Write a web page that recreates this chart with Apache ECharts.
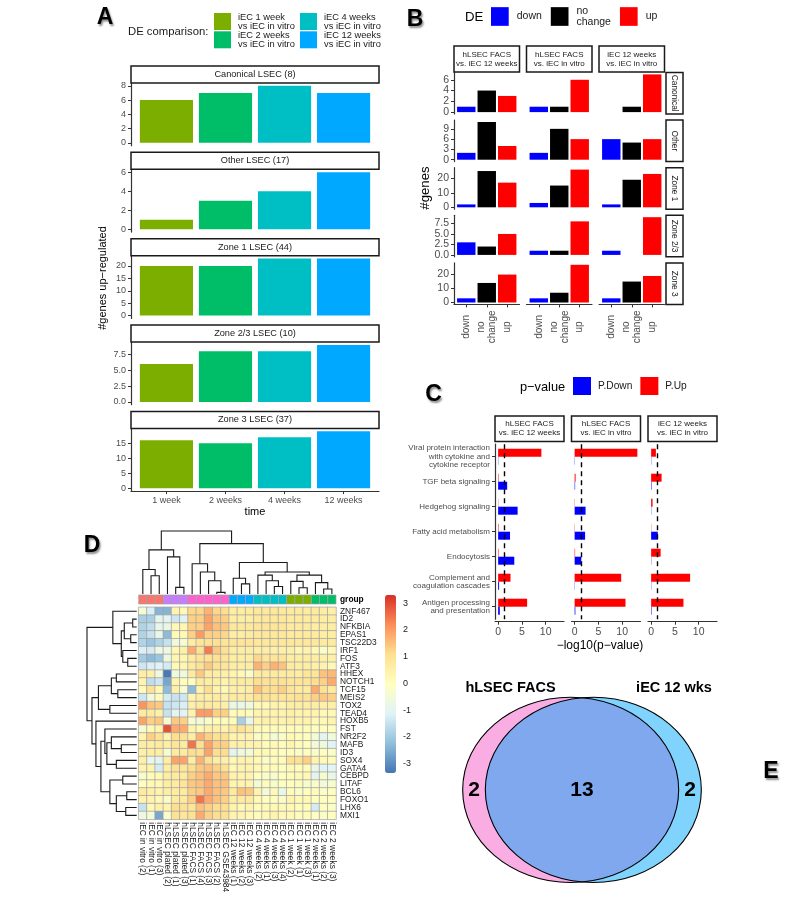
<!DOCTYPE html>
<html><head><meta charset="utf-8">
<script src="https://cdn.jsdelivr.net/npm/echarts@6/dist/echarts.min.js"></script>
<style>html,body{margin:0;padding:0;background:#fff}#c{width:787px;height:901px}</style>
</head><body><div id="c"></div>
<script>
// ================= DATA =================
// Panel A
const aTimes = ['1 week','2 weeks','4 weeks','12 weeks'];
const aComparisons = ['iEC 1 week vs iEC in vitro','iEC 2 weeks vs iEC in vitro','iEC 4 weeks vs iEC in vitro','iEC 12 weeks vs iEC in vitro'];
const aFacets = ['Canonical LSEC (8)','Other LSEC (17)','Zone 1 LSEC (44)','Zone 2/3 LSEC (10)','Zone 3 LSEC (37)'];
const aCanonical = [6,7,8,7];
const aOther = [1,3,4,6];
const aZone1 = [20,20,23,23];
const aZone23 = [6,8,8,9];
const aZone3 = [16,15,17,19];
const aTicks = [[0,2,4,6,8],[0,2,4,6],[0,5,10,15,20],[0,2.5,5,7.5],[0,5,10,15]];

// Panel B  (values: down, no change, up) per comparison
const bDE = ['down','no change','up'];
const bComparisons = ['hLSEC FACS\nvs. iEC 12 weeks','hLSEC FACS\nvs. iEC in vitro','iEC 12 weeks\nvs. iEC in vitro'];
const bSets = ['Canonical','Other','Zone 1','Zone 2/3','Zone 3'];
const bCanonical = [[1,4,3],[1,1,6],[0,1,7]];
const bOther = [[2,11,4],[2,9,6],[6,5,6]];
const bZone1 = [[2,25,17],[3,15,26],[2,19,23]];
const bZone23 = [[3,2,5],[1,1,8],[1,0,9]];
const bZone3 = [[3,14,20],[3,7,27],[3,15,19]];
const bTicks = [[0,2,4,6],[0,3,6,9],[0,10,20],[0,2.5,5,7.5],[0,10,20]];

// Panel C  (-log10 p-values)
const cComparisons = ['hLSEC FACS\nvs. iEC 12 weeks','hLSEC FACS\nvs. iEC in vitro','iEC 12 weeks\nvs. iEC in vitro'];
const cPathways = ['Viral protein interaction\nwith cytokine and\ncytokine receptor','TGF beta signaling','Hedgehog signaling','Fatty acid metabolism','Endocytosis','Complement and\ncoagulation cascades','Antigen processing\nand presentation'];
const cUp = [[9.1,0.1,0.05,0.1,0.1,2.6,6.1],[13.2,0.2,0.05,0.05,0.1,9.8,10.7],[1.0,2.2,0.3,0.05,2.0,8.2,6.8]];
const cDown = [[0.05,1.9,4.1,2.5,3.4,0.2,0.35],[0.05,0.1,2.3,2.2,1.4,0.05,0.15],[0.05,0.1,0.05,1.4,0.05,0.05,0.1]];
const cTicks = [0,5,10];
const cAlpha = 0.05;

// Panel D  heatmap (row-scaled expression)
const dSamples = ['iEC in vitro (2)','iEC in vitro (1)','iEC in vitro (3)','hLSEC plated (2)','hLSEC plated (1)','hLSEC plated (3)','hLSEC FACS (1)','hLSEC FACS (4)','hLSEC FACS (3)','hLSEC FACS (2)','hLSEC GSE43984','iEC 12 weeks (1)','iEC 12 weeks (2)','iEC 12 weeks (3)','iEC 4 weeks (2)','iEC 4 weeks (1)','iEC 4 weeks (3)','iEC 4 weeks (4)','iEC 1 week (2)','iEC 1 week (1)','iEC 1 week (3)','iEC 2 weeks (1)','iEC 2 weeks (2)','iEC 2 weeks (3)'];
const dGroupNames = ['iEC in vitro','hLSEC plated','hLSEC FACS','iEC 12 weeks','iEC 4 weeks','iEC 1 week','iEC 2 weeks'];
const dSampleGroup = [0,0,0,1,1,1,2,2,2,2,2,3,3,3,4,4,4,4,5,5,5,6,6,6];
const dGenes = ['ZNF467','ID2','NFKBIA','EPAS1','TSC22D3','IRF1','FOS','ATF3','HHEX','NOTCH1','TCF15','MEIS2','TOX2','TEAD4','HOXB5','FST','NR2F2','MAFB','ID3','SOX4','GATA4','CEBPD','LITAF','BCL6','FOXO1','LHX6','MXI1'];
const dValues = [
 [-0.4,-1.2,-2.4,-2.4,0.4,0.2,1.2,1.2,1.7,1.2,1.1,0.6,0.6,0.7,0.8,0.8,0.8,0.8,0.7,0.7,0.7,0.7,0.6,0.5],
 [-1.9,-1.9,-1.0,-1.0,-1.4,-1.1,1.3,1.3,1.9,1.4,1.3,0.6,0.6,0.6,0.8,0.8,0.8,0.8,0.7,0.7,0.7,0.7,0.6,0.6],
 [-1.8,-1.6,-0.9,-0.8,0.2,0.3,1.3,1.3,1.9,1.5,1.4,0.8,0.8,0.8,0.9,0.9,0.9,0.9,0.7,0.7,0.7,0.6,0.6,0.6],
 [-1.8,-1.5,-0.8,-2.3,0.1,0.2,1.3,2.0,1.3,1.3,1.2,0.6,0.6,0.7,0.8,0.8,0.8,0.8,0.7,0.7,0.7,0.7,0.6,0.6],
 [-1.8,-2.1,-1.8,-1.5,-0.6,-0.4,0.6,0.9,1.0,1.0,0.9,0.9,0.9,0.9,0.8,0.8,0.8,0.8,0.8,0.8,0.8,0.8,0.7,0.7],
 [-1.2,-1.3,-0.7,-0.7,0.3,0.5,1.8,1.0,2.4,1.4,1.0,0.6,0.6,0.6,0.6,0.6,0.5,0.5,0.5,0.3,0.4,0.2,-0.2,0.2],
 [-2.0,-2.3,-2.1,-0.7,0.3,0.3,0.7,0.9,1.0,1.0,0.9,0.6,0.6,0.6,1.2,0.9,0.9,0.9,0.6,0.6,0.6,0.6,0.5,0.5],
 [-1.4,-1.2,-1.1,-1.3,0.2,0.3,0.7,1.0,1.4,1.0,0.9,0.6,0.6,0.6,1.7,1.3,1.7,1.5,0.7,0.6,0.6,0.5,0.4,0.2],
 [0.6,0.5,-0.6,-3.3,-0.6,-0.6,0.7,1.4,0.7,0.6,0.5,0.4,0.2,-0.2,0.7,0.7,0.7,0.7,0.7,0.6,0.9,0.9,1.5,1.6],
 [0.4,-1.6,-1.4,-2.6,0.4,0.1,0.0,0.7,0.6,0.6,0.4,0.6,0.7,0.7,1.1,1.0,1.0,1.0,0.9,0.9,0.9,1.1,1.3,1.8],
 [0.1,1.0,0.2,-2.3,0.5,-0.4,-2.3,0.4,1.1,0.4,0.2,0.5,0.5,0.6,1.5,1.1,1.1,1.3,0.9,0.7,0.7,1.8,1.0,0.7],
 [-1.4,-0.6,0.1,-1.3,-1.5,-1.4,0.4,0.6,0.6,0.7,0.5,0.7,0.7,0.7,1.0,1.0,0.9,0.9,0.9,1.0,1.0,1.3,1.4,1.3],
 [2.1,1.5,1.4,-1.5,-1.4,-1.2,0.5,0.7,0.7,0.6,0.5,-0.8,-0.8,-0.6,0.2,0.2,0.4,0.4,0.6,0.6,0.6,0.6,0.5,0.5],
 [0.7,0.7,0.5,-1.5,-1.0,-1.0,0.4,2.0,2.0,1.3,1.3,0.1,0.2,0.1,0.4,0.4,0.4,0.4,0.5,0.4,0.4,0.4,0.2,0.2],
 [1.9,1.3,1.4,-0.4,1.4,1.3,-0.4,-0.5,-0.2,0.1,0.1,0.1,-1.9,-0.9,0.4,0.5,0.4,0.4,0.5,0.4,0.4,0.2,0.2,0.4],
 [-0.4,0.2,0.4,2.9,1.8,1.8,0.4,0.2,0.5,0.5,0.4,0.7,1.0,0.7,0.2,0.1,0.1,0.1,0.1,0.1,0.1,0.0,0.0,0.0],
 [0.4,1.3,1.0,0.4,1.1,1.0,0.6,1.7,1.3,1.0,1.0,0.4,0.4,0.4,-0.2,0.1,-0.5,-0.2,0.2,0.1,0.0,-0.5,-1.0,-0.5],
 [0.6,0.6,0.7,0.6,0.9,0.7,2.5,1.0,1.9,1.3,1.3,0.5,0.5,0.4,0.4,0.1,0.2,0.1,0.4,0.1,0.0,-0.5,-0.6,-1.1],
 [0.5,0.6,0.6,-0.4,0.7,0.7,1.1,1.0,1.9,1.1,1.1,-1.0,-0.6,-0.5,0.2,0.2,0.1,0.0,0.1,-0.2,0.0,-0.2,0.0,-0.2],
 [0.5,-0.8,-1.0,0.6,1.9,1.9,0.6,1.7,1.0,0.6,0.5,0.2,0.4,0.4,0.2,-0.2,0.1,0.1,1.0,1.0,1.3,0.4,0.2,0.1],
 [0.4,0.4,-1.3,0.6,1.0,0.9,1.1,1.4,1.5,1.3,1.0,0.2,0.4,0.4,0.2,0.1,0.1,0.0,0.2,0.1,0.1,-0.8,-1.1,-1.0],
 [-0.3,0.1,0.2,0.6,0.7,0.7,1.3,1.5,1.8,1.4,1.4,0.4,0.4,0.4,0.0,-0.2,-0.3,0.0,0.1,0.2,0.2,-1.0,-0.3,-0.8],
 [0.0,0.2,0.2,0.6,0.7,0.9,1.4,1.5,1.8,1.5,1.5,0.4,0.4,0.4,-0.5,0.1,-0.3,0.0,0.0,0.1,-0.3,-0.2,-0.5,-0.3],
 [0.7,0.5,0.4,0.6,0.7,0.7,1.3,1.4,1.8,1.5,1.4,0.7,1.5,1.4,0.4,-0.5,0.2,-0.8,0.1,-0.2,0.0,0.1,-0.2,0.0],
 [0.4,0.4,0.2,-0.2,0.7,0.7,1.3,2.5,1.8,1.5,1.3,0.6,0.7,0.7,0.2,0.0,0.0,-0.2,0.4,0.2,0.2,0.0,0.0,0.0],
 [-1.5,0.2,0.5,0.4,1.1,1.0,0.9,1.5,1.3,1.1,1.1,0.4,0.2,0.4,0.1,0.2,0.2,0.2,0.2,0.1,0.1,-1.3,0.0,-0.2],
 [-0.7,-0.5,-2.6,-0.2,1.0,0.9,1.0,1.8,1.3,1.1,1.0,0.4,0.4,0.2,0.1,0.2,0.4,0.2,0.2,0.1,0.1,0.0,-0.2,0.0]
];
const dLegendTicks = [-3,-2,-1,0,1,2,3];
// hierarchical clustering (hclust-style merges: negative = leaf in display order)
const dColMerge = [[-2,-3],[-1,1],[-5,-6],[-4,3],[2,4],[-10,-11],[-9,6],[-8,7],[-7,8],[-13,-14],[-12,10],[-17,-18],[-16,12],[-15,13],[-20,-21],[-19,15],[-23,-24],[-22,17],[16,18],[14,19],[11,20],[9,21],[5,22]];
const dColHeight = [29,39,10.5,59,70,2.6,21,35,48,16,25,12,21,30,10,20,8,18,30,35,50,80,100];
const dRowMerge = [[-2,-3],[-4,-5],[1,2],[-7,-8],[-6,4],[3,5],[-1,6],[-9,-10],[-11,-12],[8,9],[-13,-14],[10,11],[-18,-19],[-17,13],[-20,-21],[14,15],[-16,16],[-22,-23],[-24,-25],[-26,-27],[19,20],[18,21],[17,22],[-15,23],[12,24],[7,25]];
const dRowHeight = [8,12,25,18,28,31,48,41,38,51,54,77,31,51,41,60,64,28,20,22,41,54,72,82,90,100];

// Panel E  Venn
const eSets = ['hLSEC FACS','iEC 12 wks'];
const eOnlyFirst = 2, eBoth = 13, eOnlySecond = 2;

// ================= STYLE / LAYOUT =================
const F = '"Liberation Sans", Arial, Helvetica, sans-serif';
const AX = '#333333', TXT = '#4D4D4D';
const aColors = ['#7CAE00','#00BE67','#00BFC4','#00A9FF'];
const bColors = ['#0000FF','#000000','#FF0000'];
const cColors = {up:'#FF0000', down:'#0000FF'};
const groupColors = ['#F8766D','#C77CFF','#FF61CC','#00A9FF','#00BFC4','#7CAE00','#00BE67'];
const heatColors = ['#4575B4','#91BFDB','#E0F3F8','#FFFFBF','#FEE090','#FC8D59','#D73027'];

const grids=[], xAxes=[], yAxes=[], series=[], graphics=[];
function addGrid(g, xa, ya){
  grids.push(Object.assign({containLabel:false}, g));
  const gi = grids.length-1;
  xAxes.push(Object.assign({gridIndex:gi}, xa));
  yAxes.push(Object.assign({gridIndex:gi}, ya));
  return {g:gi, x:xAxes.length-1, y:yAxes.length-1};
}
function text(t, x, y, o){
  o = o||{};
  graphics.push({type:'text', x, y, rotation:o.rotation||0, silent:true, z:50,
    style:{text:t, x:0, y:0, fill:o.color||'#1A1A1A', fontSize:o.size||10, fontFamily:F,
      fontWeight:o.weight||'normal', align:o.align||'center', verticalAlign:o.valign||'middle',
      lineHeight:o.lh||undefined,
      textShadowColor:o.shadow?'rgba(0,0,0,0.45)':undefined, textShadowBlur:o.shadow?2:0,
      textShadowOffsetX:o.shadow?1.2:0, textShadowOffsetY:o.shadow?1.2:0}});
}
function strip(x, y, w, h, t, o){
  o=o||{};
  graphics.push({type:'rect', silent:true, z:40, shape:{x, y, width:w, height:h}, style:{fill:'#fff', stroke:'#1A1A1A', lineWidth:1.5}});
  text(t, x+w/2, y+h/2, {size:o.size||9, lh:o.lh, rotation:o.rotation, color:'#1A1A1A'});
}
const fmtTick = ticks => v => ticks.some(t=>t%1!==0) ? v.toFixed(1) : String(v);
const hiddenAxis = (min,max,extra) => Object.assign({type:'value', min, max, show:false, splitLine:{show:false}}, extra||{});
const lbl = o => Object.assign({showMinLabel:true, showMaxLabel:true, hideOverlap:false, fontFamily:F}, o);

// ---------- Panel A ----------
const aValues = [aCanonical, aOther, aZone1, aZone23, aZone3];
const A = {left:131, width:248, top0:83, step:86.35, h:62.7};
aValues.forEach((vals, i) => {
  const mx = Math.max(...vals);
  const top = A.top0 + i*A.step;
  const last = i === aValues.length-1;
  const ix = addGrid({left:A.left, top, width:A.width, height:A.h},
    {type:'value', min:0.4, max:4.6, splitLine:{show:false},
      axisLine:{show:last, onZero:false, lineStyle:{color:AX, width:1.2}},
      axisTick:{show:last, length:3, customValues:[1,2,3,4], lineStyle:{color:AX}},
      axisLabel:lbl({show:last, customValues:[1,2,3,4], formatter:v=>aTimes[Math.round(v)-1], fontSize:9, color:TXT, margin:5})},
    {type:'value', min:-0.05*mx, max:1.05*mx, splitLine:{show:false},
      axisLine:{show:true, onZero:false, lineStyle:{color:AX, width:1.2}},
      axisTick:{show:true, length:3, customValues:aTicks[i], lineStyle:{color:AX}},
      axisLabel:lbl({customValues:aTicks[i], formatter:fmtTick(aTicks[i]), fontSize:9, color:TXT, margin:5})});
  strip(A.left, top-17, A.width, 17, aFacets[i], {size:9.2});
  aTimes.forEach((t,k) => series.push({type:'bar', name:aComparisons[k], xAxisIndex:ix.x, yAxisIndex:ix.y,
    data:[[k+1, vals[k]]], barWidth:0.9*A.width/4.2, barGap:'-100%', itemStyle:{color:aColors[k]}, silent:true}));
});
text('#genes up\u2212regulated', 103, 278, {size:11, rotation:Math.PI/2, color:'#000'});
text('time', 255, 512, {size:11, color:'#000'});
text('DE comparison:', 128, 32, {size:11.3, align:'left', color:'#1A1A1A'});

// ---------- Panel B ----------
const bRows = [bCanonical, bOther, bZone1, bZone23, bZone3];
const B = {lefts:[454,526.5,599], width:65.5, top0:72.5, step:47.6, h:41.5};
bRows.forEach((row, r) => {
  const mx = Math.max(...row.flat());
  const top = B.top0 + r*B.step;
  const last = r === bRows.length-1;
  // tick labels are split over two overlaid y axes (even / odd ticks) so tightly packed labels all stay visible
  const evenT = bTicks[r].filter((t,k)=>k%2===0), oddT = bTicks[r].filter((t,k)=>k%2===1);
  row.forEach((vals, c) => {
    const ix = addGrid({left:B.lefts[c], top, width:B.width, height:B.h},
      {type:'value', min:0.4, max:3.6, splitLine:{show:false},
        axisLine:{show:last, onZero:false, lineStyle:{color:AX, width:1.2}},
        axisTick:{show:last, length:3, customValues:[1,2,3], lineStyle:{color:AX}},
        axisLabel:lbl({show:last, customValues:[1,2,3], formatter:v=>{const n=bDE[Math.round(v)-1]; return n==='no change'?'no\nchange':n;},
          rotate:90, align:'center', verticalAlign:'middle', margin:22.5, fontSize:10, lineHeight:11, color:TXT})},
      {type:'value', min:-0.05*mx, max:1.05*mx, splitLine:{show:false}, position:'left',
        axisLine:{show:c===0, onZero:false, lineStyle:{color:AX, width:1.2}},
        axisTick:{show:c===0, length:3, customValues:evenT, lineStyle:{color:AX}},
        axisLabel:lbl({show:c===0, customValues:evenT, formatter:fmtTick(bTicks[r]), fontSize:10.5, color:TXT, margin:5})});
    if (c===0) yAxes.push({gridIndex:ix.g, type:'value', min:-0.05*mx, max:1.05*mx, position:'left', splitLine:{show:false},
        axisLine:{show:false, onZero:false}, axisTick:{show:true, length:3, customValues:oddT, lineStyle:{color:AX}},
        axisLabel:lbl({customValues:oddT, formatter:fmtTick(bTicks[r]), fontSize:10.5, color:TXT, margin:5})});
    bDE.forEach((d,k) => series.push({type:'bar', name:d, xAxisIndex:ix.x, yAxisIndex:ix.y,
      data:[[k+1, vals[k]]], barWidth:0.9*B.width/3.2, barGap:'-100%', itemStyle:{color:bColors[k]}, silent:true}));
    if (r===0) strip(B.lefts[c], 46, B.width, 26, bComparisons[c], {size:8, lh:9.3});
  });
  strip(666, top, 17, B.h, bSets[r], {size:8.3, rotation:-Math.PI/2});
});
text('#genes', 425, 188, {size:13.2, rotation:Math.PI/2, color:'#000'});
text('DE', 465, 17, {size:13.2, align:'left', color:'#000'});

// ---------- Panel C ----------
const cMax = Math.max(...cUp.flat(), ...cDown.flat());
const C = {lefts:[495,571.5,648], width:69, top:444.2, h:175};
cUp.forEach((up, c) => {
  const ix = addGrid({left:C.lefts[c], top:C.top, width:C.width, height:C.h},
    {type:'value', min:-0.05*cMax, max:1.05*cMax, offset:2.5, splitLine:{show:false},
      axisLine:{show:true, onZero:false, lineStyle:{color:AX, width:1.2}},
      axisTick:{show:true, length:3, customValues:cTicks, lineStyle:{color:AX}},
      axisLabel:lbl({customValues:cTicks, fontSize:10.5, color:TXT, margin:5})},
    {type:'category', data:cPathways, inverse:true, boundaryGap:true,
      axisLine:{show:c===0, onZero:false, lineStyle:{color:AX, width:1.2}},
      axisTick:{show:c===0, length:3, alignWithLabel:true, lineStyle:{color:AX}},
      axisLabel:lbl({show:c===0, interval:0, fontSize:8, lineHeight:8.5, color:TXT, margin:5})});
  series.push({type:'bar', name:'P.Up', xAxisIndex:ix.x, yAxisIndex:ix.y, data:up, barWidth:8, barGap:'0%', itemStyle:{color:cColors.up}, silent:true,
    markLine:{silent:true, symbol:'none', label:{show:false}, lineStyle:{type:[5,4], color:'#000', width:1.4}, data:[{xAxis:-Math.log10(cAlpha)}]}});
  series.push({type:'bar', name:'P.Down', xAxisIndex:ix.x, yAxisIndex:ix.y, data:cDown[c], barWidth:8, barGap:'0%', itemStyle:{color:cColors.down}, silent:true});
  strip(C.lefts[c], 416, C.width, 25.5, cComparisons[c], {size:8, lh:9});
});
text('\u2212log10(p\u2212value)', 600, 646, {size:12, color:'#000'});
text('p\u2212value', 520, 387, {size:12.8, align:'left', color:'#000'});

// ---------- Panel D ----------
const D = {left:138.7, top:607.3, width:197.3, height:212};
function dendroData(merges, heights){
  const pos=[];
  const cp = ch => ch<0 ? (-ch)-0.5 : pos[ch-1];
  const chh = ch => ch<0 ? 0 : heights[ch-1];
  return merges.map(([a,b],k) => { const pa=cp(a), pb=cp(b); pos[k]=(pa+pb)/2; return [pa, chh(a), pb, chh(b), heights[k]]; });
}
function dendroRender(horizontal){
  return (params, api) => {
    const p1=api.value(0), h1=api.value(1), p2=api.value(2), h2=api.value(3), h=api.value(4);
    const pt = (p,hv) => horizontal ? api.coord([hv,p]) : api.coord([p,hv]);
    return {type:'polyline', shape:{points:[pt(p1,h1),pt(p1,h),pt(p2,h),pt(p2,h2)]}, style:{stroke:'#1A1A1A', lineWidth:1.1, fill:null}};
  };
}
let ix = addGrid({left:D.left, top:531, width:D.width, height:63}, hiddenAxis(0, dSamples.length), hiddenAxis(0, 100));
series.push({type:'custom', xAxisIndex:ix.x, yAxisIndex:ix.y, data:dendroData(dColMerge, dColHeight), renderItem:dendroRender(false), silent:true});
ix = addGrid({left:87, top:D.top, width:D.left-2-87, height:D.height}, hiddenAxis(0, 100, {inverse:true}), hiddenAxis(0, dGenes.length, {inverse:true}));
series.push({type:'custom', xAxisIndex:ix.x, yAxisIndex:ix.y, data:dendroData(dRowMerge, dRowHeight), renderItem:dendroRender(true), silent:true});
// group annotation
ix = addGrid({left:D.left, top:595, width:D.width, height:9},
  {type:'category', data:dSamples, show:false},
  {type:'category', data:['group'], position:'right', axisLine:{show:false}, axisTick:{show:false},
    axisLabel:{fontSize:8.4, fontWeight:'bold', color:'#000', margin:4, fontFamily:F}});
series.push({type:'custom', xAxisIndex:ix.x, yAxisIndex:ix.y, silent:true,
  data:dSampleGroup.map((g,i)=>[i,0,g]),
  renderItem:(params, api) => { const p=api.coord([api.value(0),0]); const s=api.size([1,1]);
    return {type:'rect', shape:{x:p[0]-s[0]/2, y:p[1]-s[1]/2, width:s[0], height:s[1]}, style:{fill:groupColors[api.value(2)], stroke:'#A0A0A0', lineWidth:0.7}}; }});
// heatmap
ix = addGrid({left:D.left, top:D.top, width:D.width, height:D.height},
  {type:'category', data:dSamples, axisLine:{show:false}, axisTick:{show:false}, splitArea:{show:false},
    axisLabel:{interval:0, rotate:-90, fontSize:8.4, color:'#1A1A1A', margin:3, fontFamily:F}},
  {type:'category', data:dGenes, inverse:true, position:'right', axisLine:{show:false}, axisTick:{show:false}, splitArea:{show:false},
    axisLabel:{interval:0, fontSize:8.4, color:'#1A1A1A', margin:4, fontFamily:F}});
const heatIndex = series.length;
const heatData = [];
dValues.forEach((row, r) => row.forEach((v, c) => heatData.push([c, r, v])));
series.push({type:'heatmap', xAxisIndex:ix.x, yAxisIndex:ix.y, data:heatData, silent:true,
  itemStyle:{borderColor:'#A0A0A0', borderWidth:0.7}, emphasis:{disabled:true}});
// colour-bar tick labels
ix = addGrid({left:385, top:595, width:11, height:178}, hiddenAxis(0,1),
  {type:'value', min:-3.35, max:3.3, position:'right', splitLine:{show:false}, axisLine:{show:false},
    axisTick:{show:false}, axisLabel:lbl({customValues:dLegendTicks, fontSize:9, color:'#1A1A1A', margin:7})});
series.push({type:'scatter', xAxisIndex:ix.x, yAxisIndex:ix.y, data:[], silent:true});

// ---------- Panel E ----------
function lensArea(d){ return 2*Math.acos(d/2) - (d/2)*Math.sqrt(4-d*d); }
const eFrac = eBoth/(eBoth+eOnlyFirst);
let lo=0, hi=2; for(let k=0;k<60;k++){ const m=(lo+hi)/2; if(lensArea(m)/Math.PI > eFrac) lo=m; else hi=m; }
const eD = (lo+hi)/2;
ix = addGrid({left:452.4, top:678.7, width:259.2, height:231.6}, hiddenAxis(-1.2,1.2), hiddenAxis(-1.2,1.2));
series.push({type:'custom', xAxisIndex:ix.x, yAxisIndex:ix.y, silent:true, data:[[0,0]],
  renderItem:(params, api) => {
    const s = api.size([1,1]); const rx=s[0], ry=s[1];
    const c1 = api.coord([-eD/2,0]), c2 = api.coord([eD/2,0]);
    const yi = Math.sqrt(1-(eD/2)*(eD/2)), th = Math.atan2(yi, eD/2);
    const lens=[];
    for(let i=0;i<=80;i++){ const a=-th+2*th*i/80; lens.push(api.coord([-eD/2+Math.cos(a), Math.sin(a)])); }
    for(let i=0;i<=80;i++){ const a=Math.PI-th+2*th*i/80; lens.push(api.coord([eD/2+Math.cos(a), Math.sin(a)])); }
    const lab = (x, t) => { const p=api.coord([x,0]); return {type:'text', x:p[0], y:p[1], style:{text:String(t), fill:'#000', fontSize:21, fontWeight:'bold', fontFamily:F, align:'center', verticalAlign:'middle'}}; };
    return {type:'group', children:[
      {type:'ellipse', shape:{cx:c1[0], cy:c1[1], rx, ry}, style:{fill:'#F9ADE3'}},
      {type:'ellipse', shape:{cx:c2[0], cy:c2[1], rx, ry}, style:{fill:'#80D3FC'}},
      {type:'polygon', shape:{points:lens}, style:{fill:'#7FA8EE'}},
      {type:'ellipse', shape:{cx:c1[0], cy:c1[1], rx, ry}, style:{fill:null, stroke:'#000', lineWidth:1.1}},
      {type:'ellipse', shape:{cx:c2[0], cy:c2[1], rx, ry}, style:{fill:null, stroke:'#000', lineWidth:1.1}},
      lab(-1, eOnlyFirst), lab(0, eBoth), lab(1, eOnlySecond)
    ]};
  }});
text(eSets[0], 510.5, 688, {size:14.5, weight:'bold', color:'#000'});
text(eSets[1], 674, 688, {size:14.5, weight:'bold', color:'#000'});

// ---------- panel letters ----------
text('A', 105, 18, {size:23, weight:'bold', color:'#000', shadow:true});
text('B', 415, 20, {size:23, weight:'bold', color:'#000', shadow:true});
text('C', 433.5, 395, {size:23, weight:'bold', color:'#000', shadow:true});
text('D', 92, 546, {size:23, weight:'bold', color:'#000', shadow:true});
text('E', 771, 772, {size:23, weight:'bold', color:'#000', shadow:true});

// ================= OPTION =================
const legendCommon = {icon:'rect', selectedMode:false, padding:0, textStyle:{fontFamily:F, color:'#1A1A1A'}};
const option = {
  animation:false, backgroundColor:'#fff', textStyle:{fontFamily:F},
  grid:grids, xAxis:xAxes, yAxis:yAxes, series, graphic:graphics,
  legend:[
    Object.assign({}, legendCommon, {left:214, top:12.5, orient:'vertical', itemWidth:17, itemHeight:17, itemGap:0.3,
      data:aComparisons.slice(0,2), formatter:n=>n.replace(' vs ', '\nvs '),
      textStyle:{fontFamily:F, color:'#1A1A1A', fontSize:9.3, lineHeight:9, padding:[0,0,0,2]}}),
    Object.assign({}, legendCommon, {left:300, top:12.5, orient:'vertical', itemWidth:17, itemHeight:17, itemGap:0.3,
      data:aComparisons.slice(2,4), formatter:n=>n.replace(' vs ', '\nvs '),
      textStyle:{fontFamily:F, color:'#1A1A1A', fontSize:9.3, lineHeight:9, padding:[0,0,0,2]}}),
    Object.assign({}, legendCommon, {left:491, top:5.5, orient:'horizontal', itemWidth:17.7, itemHeight:18.7, itemGap:9,
      data:bDE, formatter:n=>n==='no change'?'no\nchange':n,
      textStyle:{fontFamily:F, color:'#1A1A1A', fontSize:10.5, lineHeight:11, padding:[0,0,0,3]}}),
    Object.assign({}, legendCommon, {left:573, top:377, orient:'horizontal', itemWidth:18, itemHeight:18, itemGap:8,
      data:['P.Down','P.Up'], textStyle:{fontFamily:F, color:'#1A1A1A', fontSize:10.2, padding:[0,0,0,2]}})
  ],
  visualMap:[{type:'continuous', min:-3.35, max:3.3, seriesIndex:heatIndex, calculable:false, orient:'vertical',
    left:385, top:595, itemWidth:11, itemHeight:178, padding:0, text:null, inRange:{color:heatColors}, hoverLink:false}]
};
const chart = echarts.init(document.getElementById('c'), null, {renderer:'canvas'});
chart.setOption(option);
</script></body></html>
